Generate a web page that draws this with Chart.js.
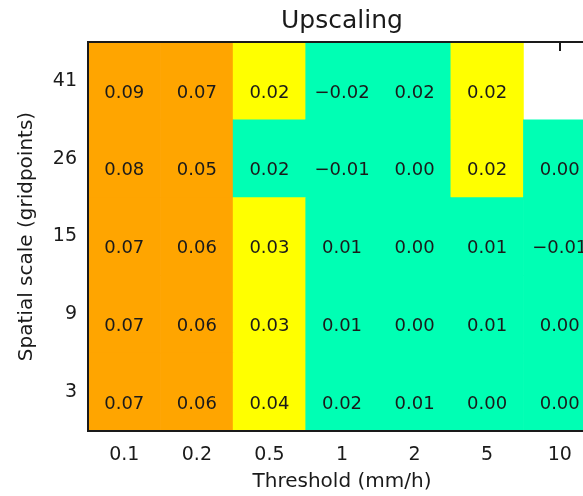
<!DOCTYPE html>
<html>
<head>
<meta charset="utf-8">
<title>Upscaling</title>
<script src="https://cdn.jsdelivr.net/npm/chart.js@4.4.1/dist/chart.umd.min.js"></script>
<style>
  html, body { margin: 0; padding: 0; overflow: hidden; background: #fff; }
  #wrap { position: absolute; left: 0; top: 0; width: 596px; height: 496px; }
</style>
</head>
<body>
<div id="wrap"><canvas id="heat" width="596" height="496"></canvas></div>
<script>
// thresholds along x, spatial scales along y (bottom to top)
const thresholds = ['0.1', '0.2', '0.5', '1', '2', '5', '10'];
const spatialScales = ['3', '9', '15', '26', '41'];

// skill score per threshold, one array per spatial scale
const skill3  = [0.07, 0.06, 0.04, 0.02, 0.01, 0.00, 0.00];
const skill9  = [0.07, 0.06, 0.03, 0.01, 0.00, 0.01, 0.00];
const skill15 = [0.07, 0.06, 0.03, 0.01, 0.00, 0.01, -0.01];
const skill26 = [0.08, 0.05, 0.02, -0.01, 0.00, 0.02, 0.00];
const skill41 = [0.09, 0.07, 0.02, -0.02, 0.02, 0.02, null];

// colour class of each cell (0 = best, 1 = middle, 2 = low), null = no value
const class3  = [0, 0, 1, 2, 2, 2, 2];
const class9  = [0, 0, 1, 2, 2, 2, 2];
const class15 = [0, 0, 1, 2, 2, 2, 2];
const class26 = [0, 0, 2, 2, 2, 1, 2];
const class41 = [0, 0, 1, 2, 2, 1, null];

const classColors = ['#FFA500', '#FFFF00', '#00FFB4'];

const skills = [skill3, skill9, skill15, skill26, skill41];
const classes = [class3, class9, class15, class26, class41];

const FONT = "'DejaVu Sans', sans-serif";
const INK = '#1a1a1a';

function fmt(v) {
    return v.toFixed(2).replace('-', '\u2212');
}

// each row is a floating bar [i, i+1] per threshold
const datasets = spatialScales.map((s, i) => ({
    label: s,
    data: skills[i].map(v => v === null ? null : [i, i + 1]),
    backgroundColor: classes[i].map(c => c === null ? 'rgba(0,0,0,0)' : classColors[c]),
    borderWidth: 0,
    barPercentage: 1,
    categoryPercentage: 1,
    grouped: false
}));

// inward ticks along the top edge, drawn under the cells
const topTicks = {
    id: 'topTicks',
    beforeDatasetsDraw(chart) {
        const { ctx, chartArea, scales } = chart;
        ctx.save();
        ctx.strokeStyle = INK;
        ctx.lineWidth = 2;
        thresholds.forEach((t, j) => {
            const x = Math.round(scales.x.getPixelForValue(j));
            ctx.beginPath();
            ctx.moveTo(x, chartArea.top);
            ctx.lineTo(x, chartArea.top + 9);
            ctx.stroke();
        });
        ctx.restore();
    }
};

// value text in each cell plus the plot frame
const cellText = {
    id: 'cellText',
    afterDatasetsDraw(chart) {
        const { ctx, chartArea } = chart;
        ctx.save();
        ctx.font = '18px ' + FONT;
        ctx.fillStyle = INK;
        ctx.textAlign = 'center';
        ctx.textBaseline = 'middle';
        chart.data.datasets.forEach((ds, i) => {
            chart.getDatasetMeta(i).data.forEach((bar, j) => {
                const v = skills[i][j];
                if (v === null) return;
                const cy = (bar.y + bar.base) / 2;
                ctx.fillText(fmt(v), bar.x, cy + 12);
            });
        });
        ctx.strokeStyle = INK;
        ctx.lineWidth = 2;
        ctx.strokeRect(chartArea.left, chartArea.top,
            chartArea.right - chartArea.left, chartArea.bottom - chartArea.top);
        ctx.restore();
    }
};

new Chart(document.getElementById('heat'), {
    type: 'bar',
    data: {
        labels: thresholds,
        datasets: datasets
    },
    options: {
        responsive: false,
        animation: false,
        layout: { padding: 0 },
        plugins: {
            legend: { display: false },
            tooltip: { enabled: false },
            title: {
                display: true,
                text: 'Upscaling',
                fullSize: false,
                color: INK,
                font: { family: FONT, size: 25, weight: 'normal' },
                padding: { top: 6, bottom: 6 }
            }
        },
        scales: {
            x: {
                type: 'category',
                grid: { display: false, drawTicks: false },
                border: { display: false },
                ticks: {
                    color: INK,
                    padding: 13,
                    font: { family: FONT, size: 19 }
                },
                title: {
                    display: true,
                    text: 'Threshold (mm/h)',
                    color: INK,
                    font: { family: FONT, size: 20 },
                    padding: { top: 0, bottom: 2 }
                },
                afterFit(scale) { scale.height = 65; }
            },
            y: {
                type: 'linear',
                min: 0,
                max: spatialScales.length,
                grid: { display: false, drawTicks: false },
                border: { display: false },
                afterBuildTicks(scale) {
                    scale.ticks = spatialScales.map((s, i) => ({ value: i + 0.5 }));
                },
                ticks: {
                    color: INK,
                    padding: 11,
                    font: { family: FONT, size: 19 },
                    callback: (value, index) => spatialScales[index]
                },
                title: {
                    display: true,
                    text: 'Spatial scale (gridpoints)',
                    color: INK,
                    font: { family: FONT, size: 20 },
                    padding: { top: 15, bottom: 0 }
                },
                afterFit(scale) { scale.width = 88; }
            }
        }
    },
    plugins: [topTicks, cellText]
});
</script>
</body>
</html>
